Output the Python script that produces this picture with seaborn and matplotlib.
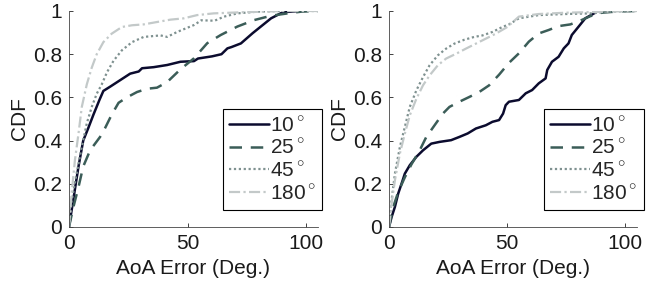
import numpy as np
import pandas as pd
import matplotlib
matplotlib.use("Agg")
import matplotlib.pyplot as plt
import seaborn as sns

# ---------------- data ----------------
labels = [r"10$^\circ$", r"25$^\circ$", r"45$^\circ$", r"180$^\circ$"]

# Left panel
L10_x = [0, 1.1, 4, 6, 8.2, 10.3, 12.9, 14.5, 17.4, 21.6, 25.8, 29.4, 30.8, 35.7, 41.4, 47, 52.7, 54.4, 60.3, 64.3, 66.8, 68.5, 72.5, 77.4, 80.9, 85.2, 89.4, 91, 97.2]
L10_y = [0, 0.077, 0.28, 0.4, 0.46, 0.52, 0.59, 0.63, 0.65, 0.68, 0.71, 0.72, 0.735, 0.74, 0.75, 0.765, 0.768, 0.78, 0.79, 0.80, 0.827, 0.833, 0.85, 0.897, 0.928, 0.966, 0.99, 0.995, 1.0]
L25_x = [0, 1.8, 4, 6, 8.9, 13.1, 15.3, 18, 20.9, 24.4, 28.7, 32.9, 37.1, 41.4, 47, 52.7, 58.3, 64, 71, 78.1, 85.2, 92.2, 97.9, 105]
L25_y = [0, 0.09, 0.185, 0.28, 0.355, 0.417, 0.46, 0.52, 0.575, 0.60, 0.625, 0.64, 0.645, 0.671, 0.73, 0.781, 0.851, 0.889, 0.928, 0.958, 0.978, 0.989, 0.997, 1.0]
L45_x = [0, 1.1, 3.2, 5.4, 7.5, 9.6, 11.7, 13.8, 16, 18.8, 22.3, 26.6, 31.5, 38.6, 41.4, 45.6, 52.7, 55.8, 61.4, 65.4, 71, 79.5, 89.4, 105]
L45_y = [0, 0.12, 0.247, 0.37, 0.48, 0.556, 0.617, 0.66, 0.716, 0.77, 0.818, 0.856, 0.88, 0.887, 0.88, 0.903, 0.935, 0.957, 0.955, 0.974, 0.989, 0.997, 1.0, 1.0]
L180_x = [0, 1.1, 2.5, 4, 5.4, 7.5, 9.6, 11.7, 14.5, 18, 22.3, 26.6, 31.5, 37.1, 42.8, 48.4, 54, 61, 72.5, 82.3, 89.4, 105]
L180_y = [0, 0.154, 0.31, 0.432, 0.556, 0.66, 0.738, 0.80, 0.856, 0.895, 0.926, 0.934, 0.938, 0.949, 0.96, 0.966, 0.981, 0.989, 0.994, 0.997, 1.0, 1.0]

# Right panel
R10_x = [0, 1.1, 2.5, 3.9, 5.3, 6.7, 8.8, 11.6, 14.4, 17.9, 21.4, 26.3, 29.8, 33.3, 36.8, 41, 43.8, 46.6, 48.3, 49.4, 50.8, 55, 57.9, 60.6, 63.4, 66.3, 67, 69, 71.8, 74, 76, 77.4, 80.3, 83.1, 87.3, 88]
R10_y = [0, 0.046, 0.093, 0.155, 0.2, 0.247, 0.286, 0.325, 0.355, 0.386, 0.394, 0.402, 0.417, 0.433, 0.456, 0.471, 0.487, 0.495, 0.525, 0.564, 0.58, 0.588, 0.619, 0.634, 0.665, 0.688, 0.727, 0.765, 0.788, 0.827, 0.85, 0.889, 0.928, 0.966, 0.992, 1.0]
R25_x = [0, 1.8, 3.9, 6.7, 9.5, 13, 15.8, 19.3, 22.8, 25.6, 29.8, 34, 38.2, 42.4, 46.6, 50.8, 55, 59.2, 63.4, 67.6, 71.8, 76.8, 80.9, 85.2, 90, 97, 105]
R25_y = [0, 0.093, 0.162, 0.23, 0.29, 0.355, 0.417, 0.471, 0.525, 0.556, 0.58, 0.602, 0.625, 0.656, 0.705, 0.76, 0.804, 0.858, 0.896, 0.912, 0.93, 0.938, 0.955, 0.976, 0.992, 0.998, 1.0]
R45_x = [0, 1.1, 2.5, 4.6, 6.7, 8.8, 11.6, 14.4, 17.2, 20.7, 24.2, 27.7, 31.9, 36.1, 39.6, 43.8, 48, 50.8, 55, 63.4, 74.7, 85.8, 92.9, 105]
R45_y = [0, 0.124, 0.247, 0.37, 0.463, 0.556, 0.633, 0.694, 0.749, 0.795, 0.826, 0.849, 0.867, 0.88, 0.887, 0.903, 0.926, 0.938, 0.966, 0.981, 0.986, 0.989, 0.997, 1.0]
R180_x = [0, 1.1, 2.5, 4.6, 6.7, 8.8, 11.6, 14.4, 17.2, 20.7, 24.2, 28.4, 32.6, 36.8, 41, 45.2, 50.1, 55, 63.4, 74.7, 85.8, 95.6, 105]
R180_y = [0, 0.108, 0.216, 0.34, 0.432, 0.517, 0.594, 0.656, 0.702, 0.749, 0.78, 0.802, 0.826, 0.849, 0.872, 0.895, 0.926, 0.974, 0.986, 0.992, 0.995, 0.998, 1.0]

x_ticks = [0, 50, 100]
y_ticks = [0, 0.2, 0.4, 0.6, 0.8, 1]
y_ticklabels = ["0", "0.2", "0.4", "0.6", "0.8", "1"]

# ---------------- styling ----------------
sns.set_style("ticks")
plt.rcParams["font.family"] = ["Liberation Sans", "DejaVu Sans"]
plt.rcParams["mathtext.fontset"] = "custom"
plt.rcParams["mathtext.rm"] = "Liberation Sans"

FS = 15
colors = ["#0b0b2e", "#3b5d58", "#7f9190", "#c3c9c9"]
styles = ["-", (0, (5, 3.5)), (0, (1, 1.2)), (0, (5, 1.5, 1, 1.5))]
widths = [1.8, 1.8, 1.6, 1.6]

fig = plt.figure(figsize=(6.52, 2.88), dpi=100)
ax1 = fig.add_axes([69/652, 61/288, 249/652, 216/288])
ax2 = fig.add_axes([389/652, 61/288, 248/652, 216/288])

panels = [
    (ax1, [(L10_x, L10_y), (L25_x, L25_y), (L45_x, L45_y), (L180_x, L180_y)], (0.618, 0.546)),
    (ax2, [(R10_x, R10_y), (R25_x, R25_y), (R45_x, R45_y), (R180_x, R180_y)], (0.625, 0.546)),
]

for ax, series, legpos in panels:
    for (xs, ys), lab, c, ls, lw in zip(series, labels, colors, styles, widths):
        df = pd.DataFrame({"x": xs, "y": ys})
        sns.lineplot(data=df, x="x", y="y", ax=ax, color=c, linestyle=ls,
                     linewidth=lw, label=lab, sort=False, estimator=None)
    ax.set_xlim(0, 105)
    ax.set_ylim(0, 1)
    ax.set_xticks(x_ticks)
    ax.set_yticks(y_ticks)
    ax.set_yticklabels(y_ticklabels)
    ax.tick_params(direction="in", length=3, width=0.6, labelsize=FS, pad=5, colors="#222222")
    for lab in ax.get_xticklabels() + ax.get_yticklabels():
        lab.set_color("#1a1a1a")
    ax.set_xlabel("AoA Error (Deg.)", fontsize=FS, color="#1a1a1a", labelpad=4)
    ax.set_ylabel("CDF", fontsize=FS, color="#1a1a1a", labelpad=3)
    for s in ["top", "right"]:
        ax.spines[s].set_visible(False)
    for s in ["left", "bottom"]:
        ax.spines[s].set_linewidth(0.6)
        ax.spines[s].set_color("#444444")
    leg = ax.legend(loc="upper left", bbox_to_anchor=legpos, fontsize=FS,
                    frameon=True, fancybox=False, edgecolor="black",
                    handlelength=1.9, handletextpad=0.05, borderpad=0.3,
                    labelspacing=0.15, borderaxespad=0)
    leg.get_frame().set_linewidth(0.8)
    leg.get_frame().set_alpha(1)

fig.savefig("out.png", dpi=100)
